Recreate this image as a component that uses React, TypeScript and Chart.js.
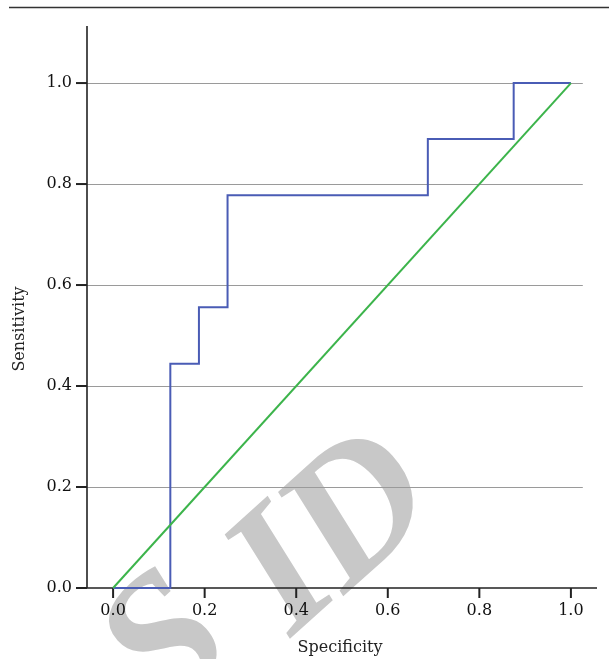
import React, { useEffect, useRef } from "react";
import { Chart, registerables } from "chart.js";

Chart.register(...registerables);

const specificity = [0, 0.125, 0.125, 0.1875, 0.1875, 0.25, 0.25, 0.6875, 0.6875, 0.875, 0.875, 1];
const sensitivity = [0, 0, 0.444, 0.444, 0.556, 0.556, 0.778, 0.778, 0.889, 0.889, 1, 1];
const refX = [0, 1];
const refY = [0, 1];
const xTicks = [0, 0.2, 0.4, 0.6, 0.8, 1.0];
const yTicks = [0, 0.2, 0.4, 0.6, 0.8, 1.0];
const xTitle = "Specificity";
const yTitle = "Sensitivity";
const watermarkLetters = ["S", "I", "D"];

const FONT = "'DejaVu Serif', serif";

const decor = {
  id: "decor",
  beforeDraw(chart: any) {
    const ctx = chart.ctx;
    ctx.save();
    ctx.fillStyle = "#ffffff";
    ctx.fillRect(0, 0, chart.width, chart.height);
    // watermark
    const pos = [
      [170, 648],
      [286, 578],
      [362, 515],
    ];
    ctx.fillStyle = "#c8c8c8";
    ctx.font = "italic bold 185px 'Liberation Serif', serif";
    ctx.textAlign = "center";
    ctx.textBaseline = "middle";
    watermarkLetters.forEach((ch, i) => {
      ctx.save();
      ctx.translate(pos[i][0], pos[i][1]);
      ctx.rotate((-42 * Math.PI) / 180);
      ctx.fillText(ch, 0, 0);
      ctx.restore();
    });
    ctx.restore();
  },
  beforeDatasetsDraw(chart: any) {
    const ctx = chart.ctx;
    const xs = chart.scales.x;
    const ys = chart.scales.y;
    const area = chart.chartArea;
    ctx.save();
    // top rule
    ctx.strokeStyle = "#333333";
    ctx.lineWidth = 1.5;
    ctx.beginPath();
    ctx.moveTo(9, 7.5);
    ctx.lineTo(chart.width, 7.5);
    ctx.stroke();
    // gridlines
    ctx.strokeStyle = "#9a9a9a";
    ctx.lineWidth = 1;
    const gridEnd = xs.getPixelForValue(1.026);
    yTicks.forEach((v) => {
      if (v === 0) return;
      const y = Math.round(ys.getPixelForValue(v)) + 0.5;
      ctx.beginPath();
      ctx.moveTo(area.left, y);
      ctx.lineTo(gridEnd, y);
      ctx.stroke();
    });
    // axes
    ctx.strokeStyle = "#222222";
    ctx.lineWidth = 1.6;
    ctx.beginPath();
    ctx.moveTo(area.left, area.top);
    ctx.lineTo(area.left, area.bottom);
    ctx.lineTo(area.right, area.bottom);
    ctx.stroke();
    // ticks
    ctx.lineWidth = 2;
    ctx.fillStyle = "#111111";
    ctx.font = "16px " + FONT;
    ctx.textAlign = "right";
    ctx.textBaseline = "middle";
    yTicks.forEach((v) => {
      const y = ys.getPixelForValue(v);
      ctx.beginPath();
      ctx.moveTo(area.left - 11, y);
      ctx.lineTo(area.left, y);
      ctx.stroke();
      ctx.fillText(v.toFixed(1), area.left - 15, y);
    });
    ctx.textAlign = "center";
    xTicks.forEach((v) => {
      const x = xs.getPixelForValue(v);
      ctx.beginPath();
      ctx.moveTo(x, area.bottom);
      ctx.lineTo(x, area.bottom + 10);
      ctx.stroke();
      ctx.fillText(v.toFixed(1), x, area.bottom + 23);
    });
    // titles
    ctx.fillStyle = "#222222";
    ctx.fillText(xTitle, 340, 648);
    ctx.save();
    ctx.translate(20, 329);
    ctx.rotate(-Math.PI / 2);
    ctx.fillText(yTitle, 0, 0);
    ctx.restore();
    ctx.restore();
  },
};

export default function App() {
  const ref = useRef<HTMLCanvasElement | null>(null);
  useEffect(() => {
    document.body.style.margin = "0";
    document.body.style.overflow = "hidden";
    const canvas = ref.current!;
    const chart = new Chart(canvas, {
      type: "scatter",
      data: {
        datasets: [
          {
            data: refX.map((x, i) => ({ x, y: refY[i] })),
            showLine: true,
            borderColor: "#3cb44b",
            borderWidth: 2,
            pointRadius: 0,
            clip: false as any,
          },
          {
            data: specificity.map((x, i) => ({ x, y: sensitivity[i] })),
            showLine: true,
            borderColor: "#4a5cb5",
            borderWidth: 2,
            pointRadius: 0,
            clip: false as any,
          },
        ],
      },
      options: {
        responsive: false,
        maintainAspectRatio: false,
        animation: false,
        layout: { padding: { left: 87, right: 12, top: 26, bottom: 71 } },
        plugins: { legend: { display: false }, tooltip: { enabled: false } },
        scales: {
          x: { type: "linear", min: -0.057, max: 1.057, display: false },
          y: { type: "linear", min: 0, max: 1.113, display: false },
        },
      },
      plugins: [decor],
    });
    return () => chart.destroy();
  }, []);
  return (
    <div style={{ width: 609, height: 659 }}>
      <canvas ref={ref} width={609} height={659} style={{ display: "block" }} />
    </div>
  );
}
